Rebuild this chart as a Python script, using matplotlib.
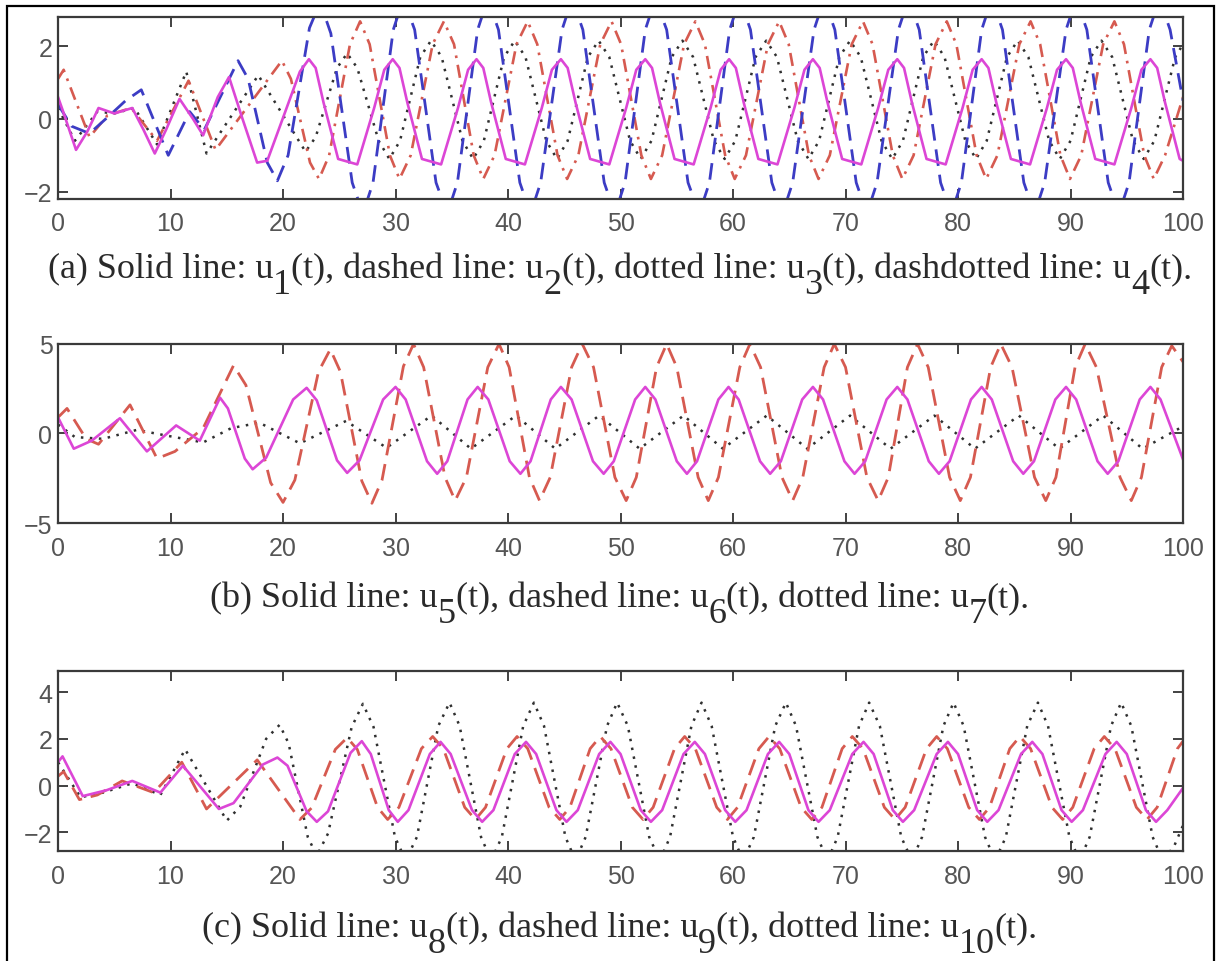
import matplotlib
matplotlib.use("Agg")
import matplotlib.pyplot as plt
from matplotlib.patches import Rectangle

plt.rcParams['font.family'] = ['Liberation Sans', 'DejaVu Sans']

# ---- panel (a): u1 solid, u2 dashed, u3 dotted, u4 dashdotted ----
t_u1 = [0, 0.4, 1.6, 2.6, 3.6, 5.0, 6.6, 7.6, 8.6, 9.6, 10.8, 12.0, 12.9, 14.2, 15.2, 16.4, 17.7, 18.6, 20.2, 21.5,
        22.3, 22.9, 23.6, 24.9, 26.6, 28.1, 29.0,
        29.75, 30.35, 31.05, 32.35, 34.05, 35.55, 36.45,
        37.2, 37.8, 38.5, 39.8, 41.5, 43.0, 43.9,
        44.7, 45.3, 46.0, 47.3, 49.0, 50.5, 51.4,
        52.2, 52.8, 53.5, 54.8, 56.5, 58.0, 58.9,
        59.65, 60.25, 60.95, 62.25, 63.95, 65.45, 66.35,
        67.1, 67.7, 68.4, 69.7, 71.4, 72.9, 73.8,
        74.6, 75.2, 75.9, 77.2, 78.9, 80.4, 81.3,
        82.1, 82.7, 83.4, 84.7, 86.4, 87.9, 88.8,
        89.6, 90.2, 90.9, 92.2, 93.9, 95.4, 96.3,
        97.1, 97.7, 98.4, 99.7, 100]
u1 = [0.6, 0.25, -0.85, -0.35, 0.3, 0.15, 0.3, -0.3, -0.95, -0.3, 0.55, 0.0, -0.45, 0.6, 1.15, 0.0, -1.2, -1.15, 0.2, 1.3,
      1.64, 1.4, 0.45, -1.1, -1.25, 0.3, 1.35,
      1.64, 1.4, 0.45, -1.1, -1.25, 0.3, 1.35,
      1.64, 1.4, 0.45, -1.1, -1.25, 0.3, 1.35,
      1.64, 1.4, 0.45, -1.1, -1.25, 0.3, 1.35,
      1.64, 1.4, 0.45, -1.1, -1.25, 0.3, 1.35,
      1.64, 1.4, 0.45, -1.1, -1.25, 0.3, 1.35,
      1.64, 1.4, 0.45, -1.1, -1.25, 0.3, 1.35,
      1.64, 1.4, 0.45, -1.1, -1.25, 0.3, 1.35,
      1.64, 1.4, 0.45, -1.1, -1.25, 0.3, 1.35,
      1.64, 1.4, 0.45, -1.1, -1.25, 0.3, 1.35,
      1.64, 1.4, 0.45, -1.1, -1.15]

t_u2 = [0, 1.2, 2.8, 4.6, 6.0, 7.4, 9.8, 11.7, 13.0, 16.0, 16.9, 18.6, 19.5, 20.45, 22.35, 23.3, 24.25, 26.15, 27.1,
        28.0, 29.8, 30.7, 31.7, 33.6, 34.6,
        35.5, 37.3, 38.2, 39.15, 41.05, 42.0,
        42.9, 44.8, 45.7, 46.65, 48.55, 49.5,
        50.4, 52.2, 53.1, 54.1, 56.0, 57.0,
        57.9, 59.7, 60.6, 61.55, 63.45, 64.4,
        65.3, 67.2, 68.1, 69.05, 70.95, 71.9,
        72.8, 74.7, 75.6, 76.55, 78.45, 79.4,
        80.3, 82.1, 83.0, 83.95, 85.85, 86.8,
        87.7, 89.6, 90.5, 91.45, 93.35, 94.3,
        95.2, 97.0, 97.9, 98.85, 100]
u2 = [0.4, -0.2, -0.4, 0.1, 0.5, 0.8, -1.0, 0.2, -0.3, 1.6, 1.1, -1.2, -1.7, -1.0, 2.5, 3.2, 2.35, -1.75, -2.6,
      -1.75, 2.45, 3.3, 2.45, -1.75, -2.6,
      -1.75, 2.45, 3.3, 2.45, -1.75, -2.6,
      -1.75, 2.45, 3.3, 2.45, -1.75, -2.6,
      -1.75, 2.45, 3.3, 2.45, -1.75, -2.6,
      -1.75, 2.45, 3.3, 2.45, -1.75, -2.6,
      -1.75, 2.45, 3.3, 2.45, -1.75, -2.6,
      -1.75, 2.45, 3.3, 2.45, -1.75, -2.6,
      -1.75, 2.45, 3.3, 2.45, -1.75, -2.6,
      -1.75, 2.45, 3.3, 2.45, -1.75, -2.6,
      -1.75, 2.45, 3.3, 2.45, 0.5]

t_u3 = [0, 1.5, 3.5, 5.0, 6.8, 8.8, 11.4, 13.2, 17.8, 22.0, 22.9, 24.8, 25.7, 26.6, 28.5, 29.45,
        30.4, 32.2, 33.15, 34.1, 35.95, 36.9,
        37.85, 39.65, 40.6, 41.55, 43.4, 44.35,
        45.3, 47.1, 48.05, 49.0, 50.85, 51.8,
        52.75, 54.55, 55.5, 56.45, 58.3, 59.25,
        60.2, 62.0, 62.95, 63.9, 65.75, 66.7,
        67.65, 69.45, 70.4, 71.35, 73.2, 74.15,
        75.1, 76.9, 77.85, 78.8, 80.65, 81.6,
        82.55, 84.35, 85.3, 86.25, 88.1, 89.05,
        90.0, 91.8, 92.75, 93.7, 95.55, 96.5,
        97.45, 99.3, 100]
u3 = [0.3, -0.6, 0.2, 0.15, 0.3, -0.7, 1.3, -0.95, 1.2, -0.9, -0.5, 1.4, 1.8, 1.4, -0.6, -1.1,
      -0.6, 1.7, 2.15, 1.7, -0.6, -1.1,
      -0.6, 1.7, 2.15, 1.7, -0.6, -1.1,
      -0.6, 1.7, 2.15, 1.7, -0.6, -1.1,
      -0.6, 1.7, 2.15, 1.7, -0.6, -1.1,
      -0.6, 1.7, 2.15, 1.7, -0.6, -1.1,
      -0.6, 1.7, 2.15, 1.7, -0.6, -1.1,
      -0.6, 1.7, 2.15, 1.7, -0.6, -1.1,
      -0.6, 1.7, 2.15, 1.7, -0.6, -1.1,
      -0.6, 1.7, 2.15, 1.7, -0.6, -1.1,
      -0.6, 1.7, 2.05]

t_u4 = [0, 0.5, 2.8, 4.4, 6.5, 8.8, 11.6, 14.0, 19.9, 20.7, 22.4, 23.2,
        24.1, 25.95, 26.85, 27.7, 29.5, 30.35,
        31.35, 33.3, 34.3, 35.2, 36.95, 37.8,
        38.8, 40.75, 41.75, 42.6, 44.4, 45.25,
        46.25, 48.2, 49.2, 50.05, 51.85, 52.7,
        53.7, 55.65, 56.65, 57.5, 59.3, 60.15,
        61.15, 63.1, 64.1, 64.95, 66.75, 67.6,
        68.6, 70.55, 71.55, 72.4, 74.2, 75.05,
        76.05, 78.0, 79.0, 79.85, 81.65, 82.5,
        83.5, 85.45, 86.45, 87.3, 89.1, 89.95,
        90.95, 92.9, 93.9, 94.75, 96.55, 97.4,
        98.4, 100]
u4 = [1.1, 1.35, -0.5, 0.1, 0.3, -0.6, 1.05, -0.85, 1.6, 1.1, -1.2, -1.65,
      -1.0, 2.05, 2.68, 2.05, -1.0, -1.65,
      -1.0, 2.05, 2.68, 2.05, -1.0, -1.65,
      -1.0, 2.05, 2.68, 2.05, -1.0, -1.65,
      -1.0, 2.05, 2.68, 2.05, -1.0, -1.65,
      -1.0, 2.05, 2.68, 2.05, -1.0, -1.65,
      -1.0, 2.05, 2.68, 2.05, -1.0, -1.65,
      -1.0, 2.05, 2.68, 2.05, -1.0, -1.65,
      -1.0, 2.05, 2.68, 2.05, -1.0, -1.65,
      -1.0, 2.05, 2.68, 2.05, -1.0, -1.65,
      -1.0, 2.05, 2.68, 2.05, -1.0, -1.65,
      -1.0, 0.6]

# ---- panel (b): u5 solid, u6 dashed, u7 dotted ----
t_u5 = [0, 1.4, 3.0, 5.5, 7.9, 10.5, 12.6, 14.4, 15.1, 16.6, 17.3, 18.5, 20.9, 22.1, 23.0, 24.8, 25.7, 26.8, 28.9,
        30.0, 30.9, 32.8, 33.7, 34.6, 36.4,
        37.3, 38.25, 40.15, 41.1, 42.0, 43.8,
        44.7, 45.65, 47.55, 48.5, 49.4, 51.3,
        52.2, 53.1, 55.0, 55.9, 56.8, 58.7,
        59.6, 60.5, 62.4, 63.3, 64.25, 66.15,
        67.1, 68.0, 69.9, 70.8, 71.75, 73.65,
        74.6, 75.5, 77.4, 78.3, 79.25, 81.15,
        82.1, 83.0, 84.9, 85.8, 86.75, 88.65,
        89.6, 90.5, 92.4, 93.3, 94.25, 96.15,
        97.1, 98.0, 100]
u5 = [0.9, -0.85, -0.4, 0.85, -1.0, 0.45, -0.4, 2.0, 1.4, -1.4, -2.0, -1.35, 1.9, 2.55, 1.85, -1.5, -2.2, -1.5, 1.9,
      2.6, 1.9, -1.55, -2.25, -1.55, 1.9,
      2.6, 1.9, -1.55, -2.25, -1.55, 1.9,
      2.6, 1.9, -1.55, -2.25, -1.55, 1.9,
      2.6, 1.9, -1.55, -2.25, -1.55, 1.9,
      2.6, 1.9, -1.55, -2.25, -1.55, 1.9,
      2.6, 1.9, -1.55, -2.25, -1.55, 1.9,
      2.6, 1.9, -1.55, -2.25, -1.55, 1.9,
      2.6, 1.9, -1.55, -2.25, -1.55, 1.9,
      2.6, 1.9, -1.55, -2.25, -1.55, 1.9,
      2.6, 1.9, -1.45]

t_u6 = [0, 0.8, 2.5, 3.6, 6.4, 8.8, 10.4, 12.9, 15.6, 16.7, 18.9, 20.0, 21.05, 23.15, 24.2, 25.1, 27.0, 27.9, 28.8, 30.7,
        31.6, 32.5, 34.4, 35.3, 36.3, 38.2,
        39.2, 40.1, 41.9, 42.8, 43.75, 45.65,
        46.6, 47.6, 49.5, 50.5, 51.4, 53.2,
        54.1, 55.0, 56.9, 57.8, 58.7, 60.6,
        61.5, 62.45, 64.35, 65.3, 66.2, 68.1,
        69.0, 70.0, 71.9, 72.9, 73.8, 75.5,
        76.4, 77.35, 79.25, 80.2, 81.1, 82.9,
        83.8, 84.8, 86.8, 87.8, 88.7, 90.4,
        91.3, 92.3, 94.4, 95.4, 96.3, 98.1,
        99.0, 100]
u6 = [0.9, 1.4, -0.3, -0.6, 1.6, -1.4, -1.0, 0.3, 3.8, 2.7, -2.75, -3.85, -2.6, 3.45, 4.7, 3.45, -2.65, -3.9, -2.6, 3.75,
      5.0, 3.7, -2.45, -3.75, -2.45, 3.7,
      5.0, 3.7, -2.45, -3.75, -2.45, 3.7,
      5.0, 3.7, -2.45, -3.75, -2.45, 3.7,
      5.0, 3.7, -2.45, -3.75, -2.45, 3.7,
      5.0, 3.7, -2.45, -3.75, -2.45, 3.7,
      5.0, 3.7, -2.45, -3.75, -2.45, 3.7,
      5.0, 3.7, -2.45, -3.75, -2.45, 3.7,
      5.0, 3.7, -2.45, -3.75, -2.45, 3.7,
      5.0, 3.7, -2.45, -3.75, -2.45, 3.7,
      4.9, 4.0]

t_u7 = [0, 1.5, 4.0, 7.0, 9.5, 12.9, 15.4, 17.9, 21.5, 25.6, 29.2, 33.2, 36.7, 40.7, 44.2,
        48.1, 51.7, 55.6, 59.1, 63.0, 66.6, 70.4, 74.0, 77.9, 81.5, 85.4, 89.0, 92.9, 96.4, 100]
u7 = [0.5, -0.2, -0.3, 0.2, -0.1, -0.5, 0.3, 0.6, -0.55, 0.7, -0.8, 1.0, -0.85, 1.0, -0.85,
      1.0, -0.85, 1.0, -0.85, 1.0, -0.85, 1.0, -0.85, 1.0, -0.85, 1.0, -0.85, 1.0, -0.85, 0.4]

# ---- panel (c): u8 solid, u9 dashed, u10 dotted ----
t_u8 = [0, 0.4, 2.2, 4.3, 6.6, 9.1, 11.1, 14.3, 15.6, 18.2, 19.5, 20.4, 22.1, 23.0, 24.0, 26.0,
        27.0, 27.8, 29.4, 30.2, 31.15, 33.05,
        34.0, 34.9, 36.8, 37.7, 38.7, 40.6,
        41.6, 42.5, 44.3, 45.2, 46.2, 48.1,
        49.1, 50.0, 51.8, 52.7, 53.7, 55.6,
        56.6, 57.5, 59.3, 60.2, 61.2, 63.1,
        64.1, 65.0, 66.7, 67.6, 68.6, 70.6,
        71.6, 72.5, 74.2, 75.1, 76.1, 78.1,
        79.1, 80.0, 81.7, 82.6, 83.6, 85.6,
        86.6, 87.5, 89.2, 90.1, 91.1, 93.1,
        94.1, 95.0, 96.7, 97.6, 98.6, 100]
u8 = [1.0, 1.25, -0.45, -0.2, 0.2, -0.3, 0.85, -1.0, -0.75, 0.9, 1.2, 0.85, -1.1, -1.55, -1.1, 1.4,
      1.9, 1.35, -1.05, -1.55, -1.05, 1.35,
      1.87, 1.35, -1.05, -1.55, -1.05, 1.35,
      1.87, 1.35, -1.05, -1.55, -1.05, 1.35,
      1.87, 1.35, -1.05, -1.55, -1.05, 1.35,
      1.87, 1.35, -1.05, -1.55, -1.05, 1.35,
      1.87, 1.35, -1.05, -1.55, -1.05, 1.35,
      1.87, 1.35, -1.05, -1.55, -1.05, 1.35,
      1.87, 1.35, -1.05, -1.55, -1.05, 1.35,
      1.87, 1.35, -1.05, -1.55, -1.05, 1.35,
      1.87, 1.35, -1.05, -1.55, -1.05, -0.1]

t_u9 = [0, 0.5, 1.9, 3.5, 5.7, 8.5, 11.0, 13.2, 17.7, 21.5, 22.55, 24.65, 25.7, 26.6, 28.4, 29.3,
        30.3, 32.3, 33.3, 34.25, 36.15, 37.1,
        38.0, 39.9, 40.8, 41.75, 43.65, 44.6,
        45.5, 47.3, 48.2, 49.15, 51.05, 52.0,
        52.9, 54.8, 55.7, 56.65, 58.55, 59.5,
        60.4, 62.3, 63.2, 64.15, 66.05, 67.0,
        67.9, 69.7, 70.6, 71.55, 73.45, 74.4,
        75.3, 77.2, 78.1, 79.05, 80.95, 81.9,
        82.8, 84.6, 85.5, 86.45, 88.35, 89.3,
        90.2, 92.1, 93.0, 93.95, 95.85, 96.8,
        97.7, 99.5, 100]
u9 = [0.4, 0.6, -0.6, -0.4, 0.2, -0.3, 1.0, -1.0, 1.1, -1.45, -0.95, 1.55, 2.05, 1.55, -0.93, -1.45,
      -0.93, 1.58, 2.1, 1.58, -0.93, -1.45,
      -0.93, 1.58, 2.1, 1.58, -0.93, -1.45,
      -0.93, 1.58, 2.1, 1.58, -0.93, -1.45,
      -0.93, 1.58, 2.1, 1.58, -0.93, -1.45,
      -0.93, 1.58, 2.1, 1.58, -0.93, -1.45,
      -0.93, 1.58, 2.1, 1.58, -0.93, -1.45,
      -0.93, 1.58, 2.1, 1.58, -0.93, -1.45,
      -0.93, 1.58, 2.1, 1.58, -0.93, -1.45,
      -0.93, 1.58, 2.1, 1.58, -0.93, -1.45,
      -0.93, 1.58, 1.9]

t_u10 = [0, 2.0, 4.0, 6.6, 9.1, 11.3, 15.0, 16.2, 18.5, 19.7, 20.5, 22.2, 23.0, 24.0, 26.1, 27.1, 28.05, 29.95, 30.9,
         31.9, 33.8, 34.8, 35.7, 37.6, 38.5,
         39.45, 41.35, 42.3, 43.2, 45.1, 46.0,
         46.9, 48.8, 49.7, 50.65, 52.55, 53.5,
         54.4, 56.3, 57.2, 58.1, 60.0, 60.9,
         61.85, 63.75, 64.7, 65.6, 67.5, 68.4,
         69.3, 71.2, 72.1, 73.05, 74.95, 75.9,
         76.8, 78.7, 79.6, 80.5, 82.4, 83.3,
         84.25, 86.15, 87.1, 88.0, 89.9, 90.8,
         91.7, 93.6, 94.5, 95.4, 97.3, 98.2,
         99.2, 100]
u10 = [1.0, -0.5, -0.3, 0.1, -0.4, 1.55, -1.5, -0.9, 2.0, 2.6, 1.8, -2.2, -3.0, -2.05, 2.5, 3.5, 2.5, -2.2, -3.2,
       -2.2, 2.55, 3.55, 2.55, -2.2, -3.2,
       -2.2, 2.55, 3.55, 2.55, -2.2, -3.2,
       -2.2, 2.55, 3.55, 2.55, -2.2, -3.2,
       -2.2, 2.55, 3.55, 2.55, -2.2, -3.2,
       -2.2, 2.55, 3.55, 2.55, -2.2, -3.2,
       -2.2, 2.55, 3.55, 2.55, -2.2, -3.2,
       -2.2, 2.55, 3.55, 2.55, -2.2, -3.2,
       -2.2, 2.55, 3.55, 2.55, -2.2, -3.2,
       -2.2, 2.55, 3.55, 2.55, -2.2, -3.2,
       -2.6, -1.7]

# caption pieces: (text, is_subscript)
cap_a = [("(a) Solid line: u", False), ("1", True), ("(t), dashed line: u", False), ("2", True),
         ("(t), dotted line: u", False), ("3", True), ("(t), dashdotted line: u", False), ("4", True), ("(t).", False)]
cap_b = [("(b) Solid line: u", False), ("5", True), ("(t), dashed line: u", False), ("6", True),
         ("(t), dotted line: u", False), ("7", True), ("(t).", False)]
cap_c = [("(c) Solid line: u", False), ("8", True), ("(t), dashed line: u", False), ("9", True),
         ("(t), dotted line: u", False), ("10", True), ("(t).", False)]

ylims = [(-2.2, 2.8), (-5, 5), (-2.8, 4.9)]
yticks = [[-2, 0, 2], [-5, 0, 5], [-2, 0, 2, 4]]

MAG = '#dc46d6'
BLUE = '#3c3cc4'
RED = '#d65a50'
DOT = '#303030'
DASH = (0, (6, 3.2))
DOTS = (0, (1, 2.6))
DASHDOT = (0, (5, 2.6, 1, 2.6))

W, H = 1219, 962
fig = plt.figure(figsize=(W / 100, H / 100), dpi=100)
boxes = [(0.0476, 0.7921, 0.9229, 0.1892),
         (0.0476, 0.4553, 0.9229, 0.1861),
         (0.0476, 0.1143, 0.9229, 0.1871)]
axes = [fig.add_axes(b) for b in boxes]

ax = axes[0]
ax.plot(t_u3, u3, color=DOT, lw=1.8, linestyle=DOTS)
ax.plot(t_u4, u4, color=RED, lw=1.9, linestyle=DASHDOT)
ax.plot(t_u2, u2, color=BLUE, lw=2.0, linestyle=DASH)
ax.plot(t_u1, u1, color=MAG, lw=1.9)

ax = axes[1]
ax.plot(t_u7, u7, color=DOT, lw=1.8, linestyle=DOTS)
ax.plot(t_u6, u6, color=RED, lw=2.0, linestyle=DASH)
ax.plot(t_u5, u5, color=MAG, lw=1.9)

ax = axes[2]
ax.plot(t_u10, u10, color=DOT, lw=1.8, linestyle=DOTS)
ax.plot(t_u9, u9, color=RED, lw=2.0, linestyle=DASH)
ax.plot(t_u8, u8, color=MAG, lw=1.9)

for i, ax in enumerate(axes):
    ax.set_xlim(0, 100)
    ax.set_ylim(*ylims[i])
    ax.set_xticks(range(0, 101, 10))
    ax.set_yticks(yticks[i])
    ax.tick_params(direction='in', top=True, right=True, length=7, width=1.3,
                   labelsize=18, labelcolor='#555555', color='#333333')
    ax.tick_params(axis='x', pad=9)
    ax.tick_params(axis='y', pad=4)
    for s in ax.spines.values():
        s.set_color('#3a3a3a')
        s.set_linewidth(1.6)

# captions: serif text with full-size, lowered subscripts, laid out piece by piece
renderer = fig.canvas.get_renderer()
CAP_SIZE = 26
SUB_DROP = 16  # px
for pieces, base_px in [(cap_a, 278), (cap_b, 607), (cap_c, 937)]:
    items = []
    for s, sub in pieces:
        y_px = base_px + (SUB_DROP if sub else 0)
        txt = fig.text(0, 1 - y_px / H, s, ha='left', va='baseline', fontsize=CAP_SIZE,
                       family='Liberation Serif', color='#2a2a2a')
        items.append(txt)
    widths = [t.get_window_extent(renderer).width for t in items]
    x = 620 - sum(widths) / 2
    for txt, w in zip(items, widths):
        txt.set_x(x / W)
        x += w

# outer frame of the picture
fig.patches.append(Rectangle((7 / W, -0.02), 1207 / W, 1 - 7 / H + 0.02,
                             transform=fig.transFigure, fill=False,
                             edgecolor='black', linewidth=1.6))

fig.savefig('out.png', dpi=100, facecolor='white')
